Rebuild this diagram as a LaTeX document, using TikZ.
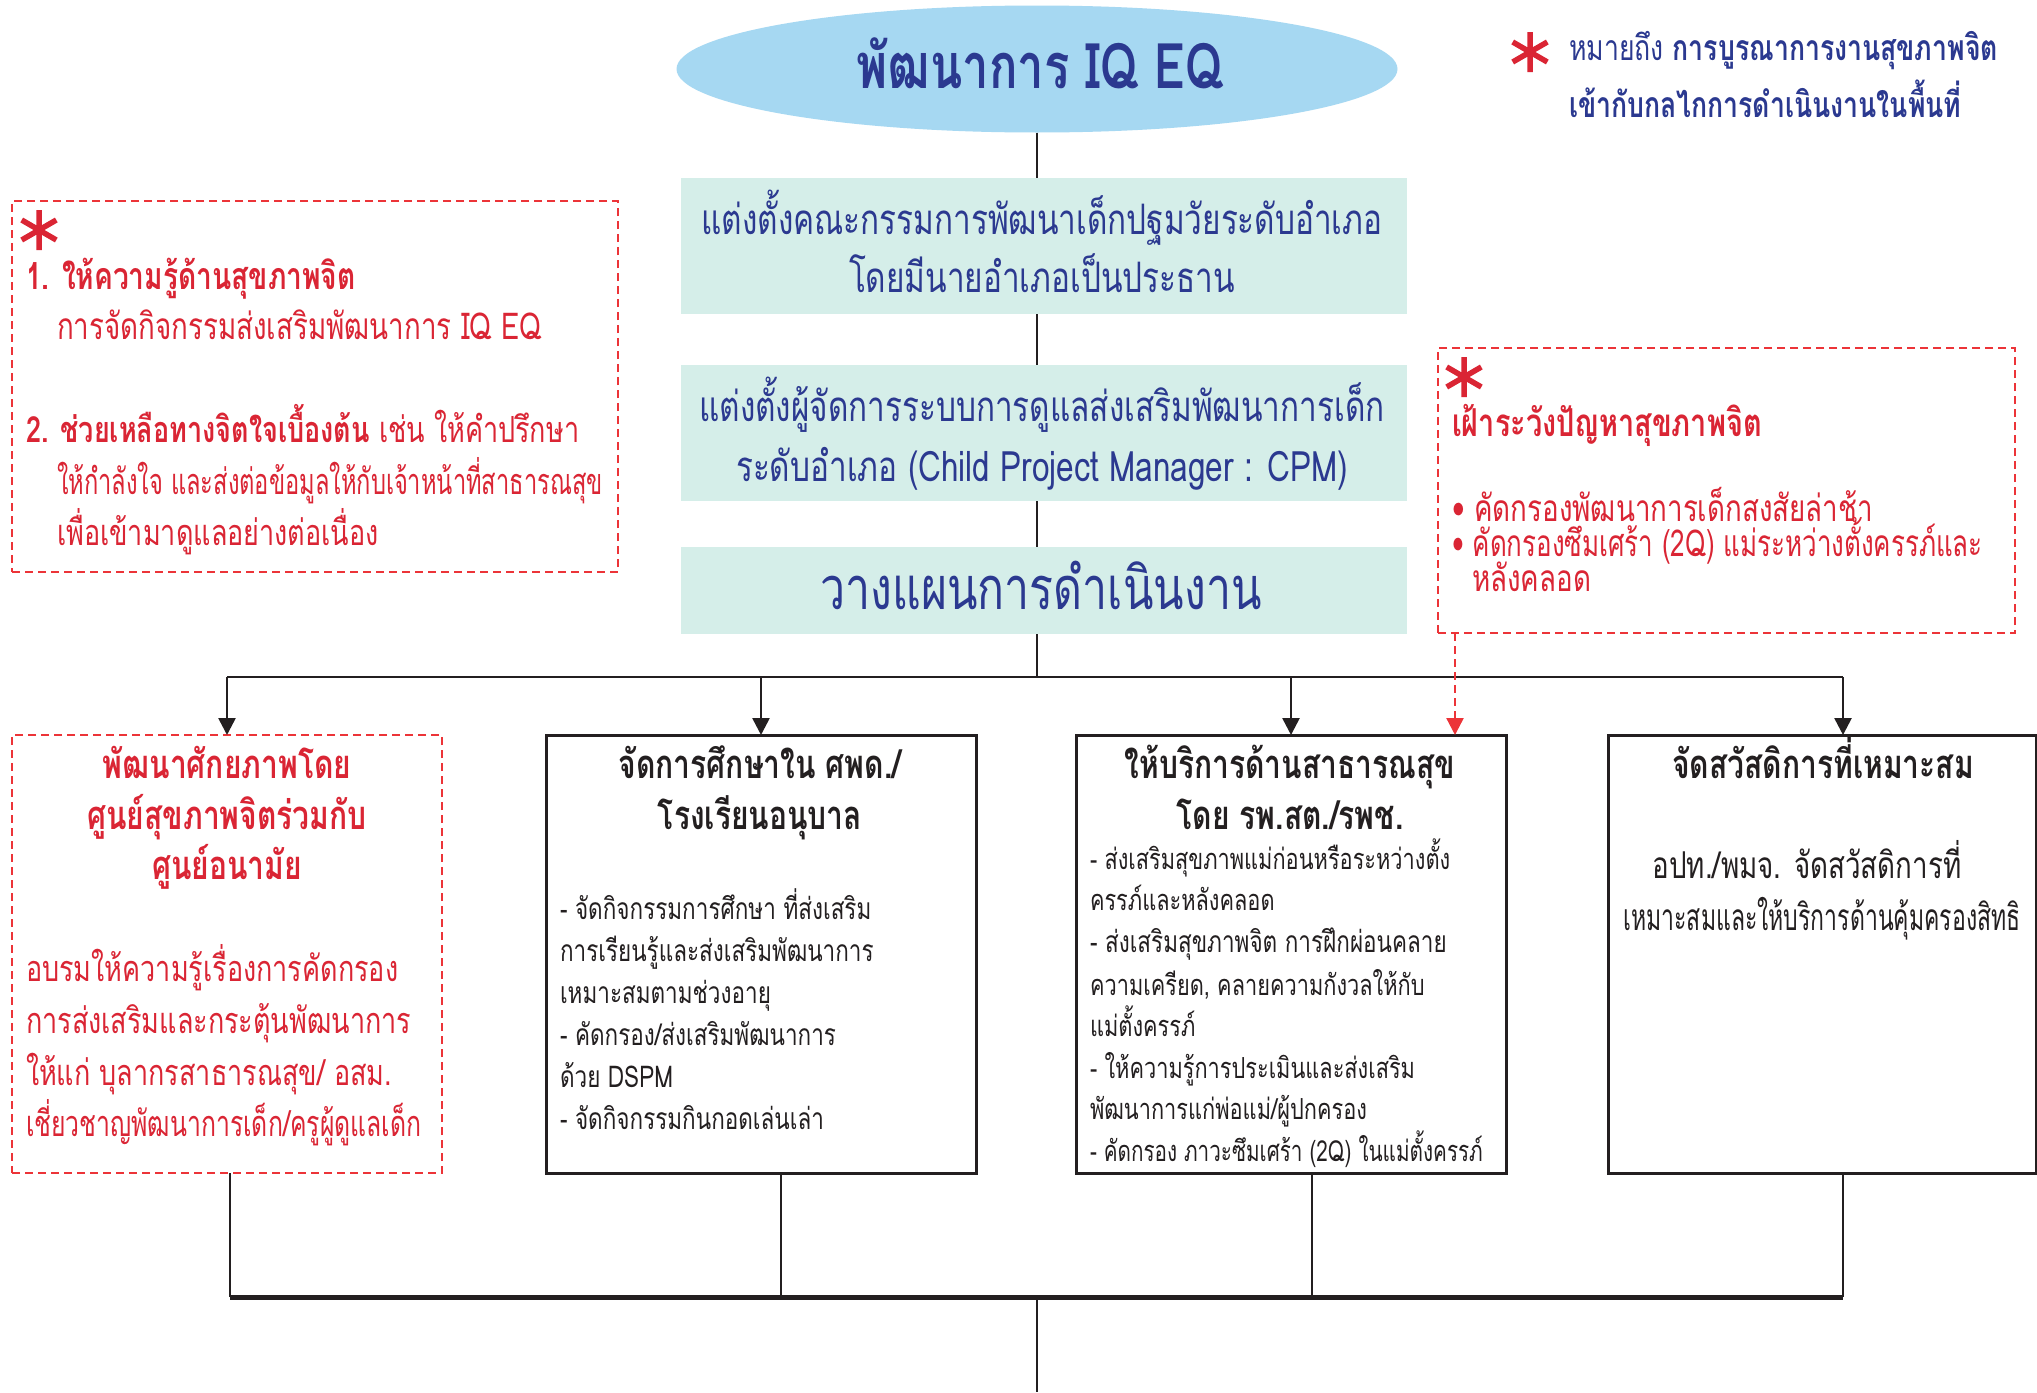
\documentclass[tikz,border=0pt]{standalone}
\usepackage{fontspec}
\usetikzlibrary{arrows.meta,shapes.geometric}
\newfontfamily\thfont[Script=Thai,FakeStretch=0.75]{Loma}
\definecolor{navy}{RGB}{43,57,144}
\definecolor{skyfill}{RGB}{166,216,242}
\definecolor{mint}{RGB}{213,238,233}
\definecolor{alertred}{RGB}{218,37,52}
\definecolor{dashred}{RGB}{236,52,56}
\definecolor{ink}{RGB}{35,31,32}
\newcommand\fsz[1]{\thfont\fontsize{#1pt}{#1pt}\selectfont}
% six-armed asterisk used as the integration marker
\newcommand\starmark[2]{\draw[starstroke,shift={(#1,#2)}] (0,-20)--(0,20) (-17.3,-10)--(17.3,10) (-17.3,10)--(17.3,-10);}
\begin{document}
\begin{tikzpicture}[x=1pt,y=-1pt,
  every node/.style={inner sep=0pt,outer sep=0pt},
  starstroke/.style={draw=alertred,line width=5.5pt},
  stagebox/.style={fill=mint,minimum width=726pt},
  outcomebox/.style={draw=ink,line width=3pt,minimum width=430pt,minimum height=438pt},
  dashbox/.style={draw=dashred,line width=2.6pt,dash pattern=on 8pt off 5pt},
  link/.style={draw=ink,line width=2.6pt},
  busline/.style={draw=ink,line width=5pt},
  arrowlink/.style={link,-{Triangle[width=17pt,length=17pt]}},
  redarrow/.style={draw=dashred,line width=2.4pt,dash pattern=on 8pt off 5pt,-{Triangle[width=17pt,length=17pt]}},
  % text sizes: the shift puts the centre of the letters on the given point
  reg/.style={font=\fsz{#1},yshift={-0.28*#1}},
  bld/.style={font=\fsz{#1}\bfseries,yshift={-0.28*#1}},
  goaltxt/.style={anchor=mid,text=navy,bld=63},
  stagetxt/.style={anchor=mid,text=navy,reg=42},
  plantxt/.style={anchor=mid,text=navy,reg=59.5},
  legendtxt/.style={anchor=mid west,text=navy,reg=35.5},
  redtxt/.style={anchor=mid west,text=alertred,reg=#1},
  redtxt/.default=36,
  redhead/.style={anchor=mid west,text=alertred,bld=#1},
  redhead/.default=37.5,
  headtxt/.style={anchor=mid,bld=40},
  bodytxt/.style={anchor=mid west,text=ink,reg=#1},
  bodytxt/.default=29,
]
\useasboundingbox (0,0) rectangle (2037,1392);
\fill[white] (0,0) rectangle (2037,1392);
\clip (0,0) rectangle (2037,1392);

% ---------- main chain ----------
\node[ellipse,fill=skyfill,minimum width=721pt,minimum height=127pt] (goal) at (1037,69) {};
\node[goaltxt] (goalt) at (1040,69) {พัฒนาการ IQ EQ};

\node[stagebox,minimum height=136pt] (committee) at (1044,246) {};
\node[stagetxt] (committee1) at (1042,221) {แต่งตั้งคณะกรรมการพัฒนาเด็กปฐมวัยระดับอำเภอ};
\node[stagetxt] (committee2) at (1042,279) {โดยมีนายอำเภอเป็นประธาน};

\node[stagebox,minimum height=136pt] (manager) at (1044,433) {};
\node[stagetxt] (manager1) at (1042,408) {แต่งตั้งผู้จัดการระบบการดูแลส่งเสริมพัฒนาการเด็ก};
\node[stagetxt] (manager2) at (1042,468) {ระดับอำเภอ (Child Project Manager : CPM)};

\node[stagebox,minimum height=87pt] (plan) at (1044,590.5) {};
\node[plantxt] (plant) at (1041,591) {วางแผนการดำเนินงาน};

\draw[link] (goal.south) -- (goal.south |- committee.north);
\draw[link] (goal.south |- committee.south) -- (goal.south |- manager.north);
\draw[link] (goal.south |- manager.south) -- (goal.south |- plan.north);

% ---------- legend ----------
\starmark{1530}{52}
\node[legendtxt] (legend1) at (1569,48) {หมายถึง {\bfseries การบูรณาการงานสุขภาพจิต}};
\node[legendtxt,bld=35.5] (legend2) at (1569,95) {เข้ากับกลไกการดำเนินงานในพื้นที่};

% ---------- mental-health support box ----------
\node[dashbox,minimum width=606pt,minimum height=371pt] (guide) at (315,386.5) {};
\starmark{39}{230}
\node[redhead] (guide1) at (26,277) {1. ให้ความรู้ด้านสุขภาพจิต};
\node[redtxt=37] (guide2) at (57,327) {การจัดกิจกรรมส่งเสริมพัฒนาการ IQ EQ};
\node[redtxt] (guide3) at (26,430) {{\bfseries 2. ช่วยเหลือทางจิตใจเบื้องต้น} เช่น ให้คำปรึกษา};
\node[redtxt] (guide4) at (57,482) {\scalebox{0.876}[1]{ให้กำลังใจ และส่งต่อข้อมูลให้กับเจ้าหน้าที่สาธารณสุข}};
\node[redtxt] (guide5) at (57,533) {เพื่อเข้ามาดูแลอย่างต่อเนื่อง};

% ---------- surveillance box ----------
\node[dashbox,minimum width=577pt,minimum height=285pt] (watch) at (1726.5,490.5) {};
\starmark{1464}{377}
\node[redhead=38.5] (watch1) at (1452,424) {เฝ้าระวังปัญหาสุขภาพจิต};
\node[redtxt=37] (watch2) at (1452,509) {• คัดกรองพัฒนาการเด็กสงสัยล่าช้า};
\node[redtxt=37] (watch3) at (1452,544) {\scalebox{0.935}[1]{• คัดกรองซึมเศร้า (2Q) แม่ระหว่างตั้งครรภ์และ}};
\node[redtxt=37] (watch4) at (1472,579) {หลังคลอด};

% ---------- four work streams ----------
\node[dashbox,minimum width=430pt,minimum height=438pt] (careA) at (227,954) {};
\node[outcomebox] (careB) at (761,954) {};
\node[outcomebox] (careC) at (1291,954) {};
\node[outcomebox,minimum width=428pt] (careD) at (1822,954) {};

\coordinate (split) at (1037,677);
\coordinate (busL) at (227,677);
\coordinate (busR) at (1843,677);
\draw[link] (split |- plan.south) -- (split);
\draw[link] (busL) -- (busR);
\draw[arrowlink] (busL) -- (careA.north);
\draw[arrowlink] (careB.north |- busL) -- (careB.north);
\draw[arrowlink] (careC.north |- busL) -- (careC.north);
\draw[arrowlink] (busR) -- (busR |- careD.north);

\coordinate (watchdrop) at (1455,633);
\draw[redarrow] (watchdrop) -- (watchdrop |- careC.north);

% stream A
\node[headtxt,text=alertred] (a1) at (227,765) {พัฒนาศักยภาพโดย};
\node[headtxt,text=alertred] (a2) at (227,816) {ศูนย์สุขภาพจิตร่วมกับ};
\node[headtxt,text=alertred] (a3) at (227,866) {ศูนย์อนามัย};
\node[redtxt] (a4) at (26,969) {อบรมให้ความรู้เรื่องการคัดกรอง};
\node[redtxt] (a5) at (26,1021) {การส่งเสริมและกระตุ้นพัฒนาการ};
\node[redtxt] (a6) at (26,1073) {ให้แก่ บุลากรสาธารณสุข/ อสม.};
\node[redtxt] (a7) at (26,1124) {\scalebox{0.918}[1]{เชี่ยวชาญพัฒนาการเด็ก/ครูผู้ดูแลเด็ก}};

% stream B
\node[headtxt,text=ink] (b1) at (760,765) {จัดการศึกษาใน ศพด./};
\node[headtxt,text=ink] (b2) at (760,816) {โรงเรียนอนุบาล};
\node[bodytxt=30] (b3) at (560,909) {- จัดกิจกรรมการศึกษา ที่ส่งเสริม};
\node[bodytxt=30] (b4) at (560,951) {การเรียนรู้และส่งเสริมพัฒนาการ};
\node[bodytxt=30] (b5) at (560,993) {เหมาะสมตามช่วงอายุ};
\node[bodytxt=30] (b6) at (560,1035) {- คัดกรอง/ส่งเสริมพัฒนาการ};
\node[bodytxt=30] (b7) at (560,1077) {ด้วย DSPM};
\node[bodytxt=30] (b8) at (560,1119) {- จัดกิจกรรมกินกอดเล่นเล่า};

% stream C
\node[headtxt,text=ink] (c1) at (1290,765) {ให้บริการด้านสาธารณสุข};
\node[headtxt,text=ink] (c2) at (1290,816) {โดย รพ.สต./รพช.};
\node[bodytxt] (c3) at (1090,859) {- ส่งเสริมสุขภาพแม่ก่อนหรือระหว่างตั้ง};
\node[bodytxt] (c4) at (1090,900) {ครรภ์และหลังคลอด};
\node[bodytxt=30] (c5) at (1090,942) {- ส่งเสริมสุขภาพจิต การฝึกผ่อนคลาย};
\node[bodytxt] (c6) at (1090,985) {ความเครียด, คลายความกังวลให้กับ};
\node[bodytxt] (c7) at (1090,1026) {แม่ตั้งครรภ์};
\node[bodytxt] (c8) at (1090,1068) {- ให้ความรู้การประเมินและส่งเสริม};
\node[bodytxt] (c9) at (1090,1109) {พัฒนาการแก่พ่อแม่/ผู้ปกครอง};
\node[bodytxt] (c10) at (1090,1151) {\scalebox{0.95}[1]{- คัดกรอง ภาวะซึมเศร้า (2Q) ในแม่ตั้งครรภ์}};

% stream D
\node[headtxt,text=ink] (d1) at (1823,765) {จัดสวัสดิการที่เหมาะสม};
\node[bodytxt=37,anchor=mid] (d2) at (1807,866) {อปท./พมจ. จัดสวัสดิการที่};
\node[bodytxt=37,anchor=mid] (d3) at (1822,918) {\scalebox{0.83}[1]{เหมาะสมและให้บริการด้านคุ้มครองสิทธิ}};

% ---------- merge below the streams ----------
\coordinate (mergeL) at (230,1297);
\coordinate (mergeB) at (781,1297);
\coordinate (mergeC) at (1312,1297);
\coordinate (mergeR) at (1843,1297);
\coordinate (exit) at (1037,1392);
\draw[link] (careA.south -| mergeL) -- (mergeL);
\draw[link] (careB.south -| mergeB) -- (mergeB);
\draw[link] (careC.south -| mergeC) -- (mergeC);
\draw[link] (careD.south -| mergeR) -- (mergeR);
\draw[busline] (mergeL) -- (mergeR);
\draw[link] (exit |- mergeL) -- (exit);
\end{tikzpicture}
\end{document}
